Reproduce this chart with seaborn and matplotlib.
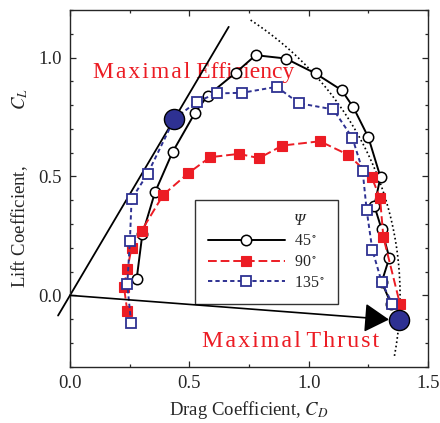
import numpy as np
import pandas as pd
import seaborn as sns
import matplotlib
matplotlib.use("Agg")
import matplotlib.pyplot as plt
from matplotlib.lines import Line2D

# Lift / drag polars for three phase angles (CD, CL pairs in sweep order)
cd_45 = [0.279, 0.303, 0.356, 0.430, 0.524, 0.577, 0.694, 0.778, 0.904, 1.029,
         1.138, 1.187, 1.250, 1.301, 1.275, 1.306, 1.338, 1.306, 1.345]
cl_45 = [0.067, 0.256, 0.433, 0.603, 0.768, 0.840, 0.936, 1.010, 0.996, 0.933,
         0.863, 0.791, 0.665, 0.497, 0.377, 0.277, 0.158, 0.056, -0.035]

cd_90 = [0.240, 0.226, 0.240, 0.258, 0.300, 0.391, 0.496, 0.587, 0.708, 0.792,
         0.890, 1.047, 1.166, 1.264, 1.299, 1.313, 1.383]
cl_90 = [-0.066, 0.036, 0.109, 0.200, 0.272, 0.423, 0.514, 0.581, 0.595, 0.577,
         0.630, 0.648, 0.591, 0.497, 0.409, 0.245, -0.038]

cd_135 = [0.256, 0.240, 0.251, 0.258, 0.325, 0.437, 0.531, 0.614, 0.722, 0.866,
          0.959, 1.103, 1.183, 1.226, 1.243, 1.267, 1.306, 1.350]
cl_135 = [-0.115, 0.046, 0.230, 0.405, 0.511, 0.742, 0.814, 0.849, 0.852, 0.877,
          0.808, 0.782, 0.663, 0.525, 0.358, 0.190, 0.056, -0.035]

series_labels = ["45$^\\circ$", "90$^\\circ$", "135$^\\circ$"]

# Optimal operating points
eff_point = (0.437, 0.742)      # maximal efficiency (tangent from origin)
thrust_point = (1.380, -0.105)  # maximal thrust (largest resultant)
resultant_max = 1.383           # radius of the constant-resultant envelope
envelope_deg = (-10.6, 57.0)    # angular span of the envelope arc
tangent_cd = (-0.05, 0.665)     # CD span of the tangent line

x_ticks = [0.0, 0.5, 1.0, 1.5]
y_ticks = [0.0, 0.5, 1.0]

RED = "#ec1c24"
BLUE = "#2e3192"

sns.set_style("ticks")
plt.rcParams["font.family"] = ["Liberation Serif", "DejaVu Serif"]
plt.rcParams["mathtext.fontset"] = "stix"

fig = plt.figure(figsize=(4.4, 4.23), dpi=100)
ax = fig.add_axes([70 / 440, (423 - 366.7) / 423, 358 / 440, 356.7 / 423])

df45 = pd.DataFrame({"CD": cd_45, "CL": cl_45})
df90 = pd.DataFrame({"CD": cd_90, "CL": cl_90})
df135 = pd.DataFrame({"CD": cd_135, "CL": cl_135})

# envelope of constant resultant force coefficient
theta = np.radians(np.linspace(envelope_deg[0], envelope_deg[1], 200))
ax.plot(resultant_max * np.cos(theta), resultant_max * np.sin(theta),
        color="black", lw=1.2, linestyle=(0, (1, 1.6)), zorder=2)

# tangent line from the origin through the max-efficiency point
slope = eff_point[1] / eff_point[0]
tx = np.array(tangent_cd)
ax.plot(tx, slope * tx, color="black", lw=1.3, zorder=2, clip_on=False)

sns.lineplot(data=df45, x="CD", y="CL", sort=False, estimator=None, ax=ax,
             color="black", lw=1.4, marker="o", markersize=7.5,
             markerfacecolor="white", markeredgecolor="black",
             markeredgewidth=1.1, zorder=4)
sns.lineplot(data=df90, x="CD", y="CL", sort=False, estimator=None, ax=ax,
             color=RED, lw=1.4, linestyle=(0, (4.5, 2.0)), marker="s",
             markersize=7.5, markerfacecolor=RED, markeredgecolor=RED,
             markeredgewidth=0.8, zorder=4)
sns.lineplot(data=df135, x="CD", y="CL", sort=False, estimator=None, ax=ax,
             color=BLUE, lw=1.4, linestyle=(0, (2.2, 1.6)), marker="s",
             markersize=7.5, markerfacecolor="white", markeredgecolor=BLUE,
             markeredgewidth=1.3, zorder=4)

# arrow from origin to max thrust point
ax.annotate("", xy=thrust_point, xytext=(0, 0),
            arrowprops=dict(arrowstyle="-|>,head_length=0.85,head_width=0.5",
                            color="black", lw=1.2, shrinkA=0, shrinkB=7.5,
                            mutation_scale=18),
            zorder=5)

ax.plot([eff_point[0], thrust_point[0]], [eff_point[1], thrust_point[1]],
        linestyle="none", marker="o", markersize=14.5, markerfacecolor=BLUE,
        markeredgecolor="black", markeredgewidth=1.0, zorder=6)

hs = "\u200a"
ax.text(0.098, 0.915, hs.join("Maximal") + " Efficiency", color=RED,
        fontsize=17, ha="left", va="baseline", zorder=1.5)
ax.text(0.554, -0.219, hs.join("Maximal") + " " + hs.join("Thrust"),
        color=RED, fontsize=17.3, ha="left", va="baseline", zorder=1.5)

ax.set_xlim(0, 1.5)
ax.set_ylim(-0.3, 1.2)
ax.set_xticks(x_ticks)
ax.set_xticklabels([f"{v:.1f}" for v in x_ticks])
ax.set_yticks(y_ticks)
ax.set_yticklabels([f"{v:.1f}" for v in y_ticks])
ax.set_xticks(np.arange(0, 1.51, 0.25), minor=True)
ax.set_yticks(np.arange(-0.3, 1.21, 0.1), minor=True)
ax.tick_params(which="both", direction="in", top=True, right=True,
               labelsize=13.5, width=0.9, pad=6)
ax.tick_params(which="major", length=4)
ax.tick_params(which="minor", length=2.5)
for sp in ax.spines.values():
    sp.set_linewidth(1.0)
    sp.set_visible(True)

ax.set_xlabel("Drag Coefficient, $C_D$", fontsize=13.5, labelpad=5)
ax.set_ylabel("Lift Coefficient," + " " * 12 + "$C_L$", fontsize=13.5, labelpad=6)

lines = [l for l in ax.get_lines() if l.get_marker() in ("o", "s")][:3]
title_handle = Line2D([], [], linestyle="none")
leg = ax.legend([title_handle] + lines, ["\u03a8"] + series_labels,
                loc="upper left", bbox_to_anchor=(0.524, 0.402),
                bbox_transform=ax.transData, borderaxespad=0,
                fontsize=11.5, handlelength=4.8, handletextpad=0.6,
                labelspacing=0.3, borderpad=0.8, frameon=True,
                fancybox=False, framealpha=1, edgecolor="#333333")
leg.get_frame().set_linewidth(1.0)
leg.get_texts()[0].set_fontstyle("italic")
leg.set_zorder(3)

fig.savefig("out.png", dpi=100)
